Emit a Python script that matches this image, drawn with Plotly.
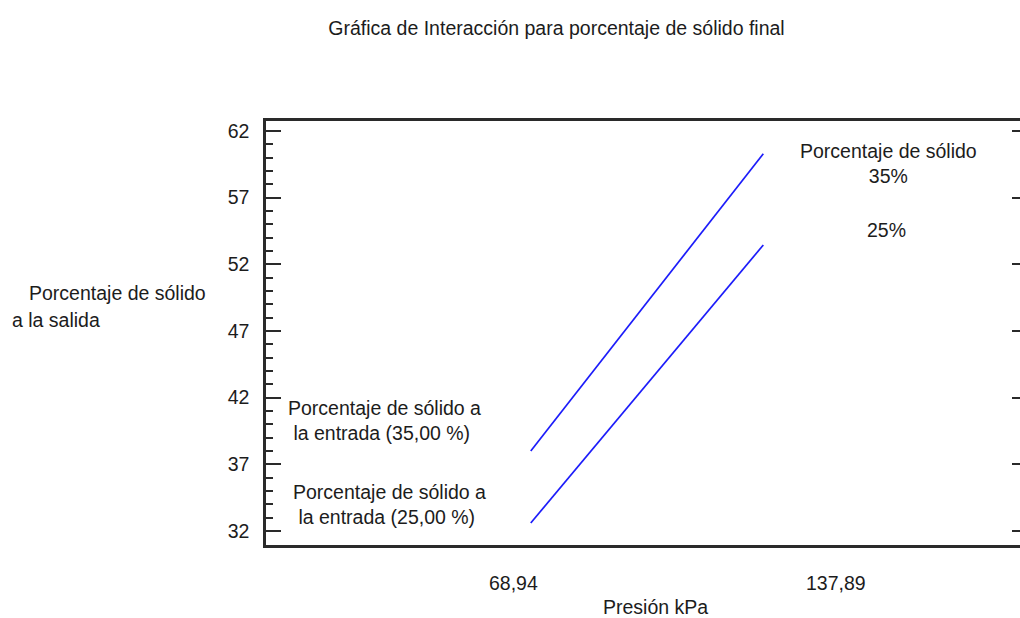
import plotly.graph_objects as go

# Factor levels (pressure, kPa) and mean response for each inlet solids level
presion = [68.94, 137.89]
solido_35 = [38.0, 60.3]
solido_25 = [32.6, 53.45]
niveles = ["35,00", "25,00"]
y_ticks = [32, 37, 42, 47, 52, 57, 62]

FONT = "Liberation Sans, Arial, sans-serif"
FS = 19.5
TXT = "#1c1c1c"
AX = "#2a2a2a"
BLUE = "rgb(28,28,250)"

fig = go.Figure()
for serie in (solido_35, solido_25):
    fig.add_trace(go.Scatter(
        x=presion, y=serie, mode="lines",
        line=dict(color=BLUE, width=1.7),
        showlegend=False, hoverinfo="skip",
    ))
# Same data on the right-hand axis (invisible) so its ticks are drawn
fig.add_trace(go.Scatter(
    x=presion, y=solido_35, yaxis="y2", mode="lines",
    line=dict(color="rgba(0,0,0,0)", width=0),
    showlegend=False, hoverinfo="skip",
))

fig.update_layout(
    width=1020, height=618,
    margin=dict(l=266, r=0, t=121, b=73),
    paper_bgcolor="white", plot_bgcolor="white",
    font=dict(family=FONT, size=FS, color=TXT),
    title=dict(
        text="Gráfica de Interacción para porcentaje de sólido final",
        x=0.5456, xanchor="center", y=0.955, yanchor="middle",
        font=dict(family=FONT, size=FS, color=TXT),
    ),
    xaxis=dict(
        range=[-9.56, 214.0], showgrid=False, zeroline=False,
        showticklabels=False, ticks="",
        showline=True, linecolor=AX, linewidth=2.5, mirror=True,
    ),
    yaxis=dict(
        range=[30.95, 62.75], showgrid=False, zeroline=False,
        tickvals=y_ticks, ticktext=[str(v) for v in y_ticks],
        ticks="inside", ticklen=15, tickwidth=2, tickcolor=AX,
        minor=dict(dtick=1, ticks="inside", ticklen=7, tickwidth=2, tickcolor=AX),
        showline=True, linecolor=AX, linewidth=2.5, mirror=False,
        ticklabelstandoff=10,
        tickfont=dict(family=FONT, size=FS, color=TXT),
    ),
    yaxis2=dict(
        overlaying="y", side="right", anchor="x",
        range=[30.95, 62.75], showgrid=False, zeroline=False,
        tickvals=y_ticks, showticklabels=False,
        ticks="inside", ticklen=8, tickwidth=2, tickcolor=AX,
        showline=False,
    ),
)

# X tick labels for the two pressure levels
x_lab_pos = [0.3276, 0.756]
for pos, v in zip(x_lab_pos, presion):
    fig.add_annotation(
        text=f"{v:.2f}".replace(".", ","), xref="paper", yref="paper",
        x=pos, y=-0.0896, xanchor="center", yanchor="middle",
        showarrow=False, font=dict(family=FONT, size=FS, color=TXT),
    )

# Axis titles
fig.add_annotation(text="Presión kPa", xref="paper", yref="paper",
                   x=0.5172, y=-0.147, xanchor="center", yanchor="middle",
                   showarrow=False, font=dict(family=FONT, size=FS, color=TXT))
fig.add_annotation(text="Porcentaje de sólido", xref="paper", yref="paper",
                   x=-0.317, y=0.594, xanchor="left", yanchor="middle",
                   showarrow=False, font=dict(family=FONT, size=FS, color=TXT))
fig.add_annotation(text="a la salida", xref="paper", yref="paper",
                   x=-0.3395, y=0.5307, xanchor="left", yanchor="middle",
                   showarrow=False, font=dict(family=FONT, size=FS, color=TXT))

# Series labels next to the low-pressure ends
lab_pos = [(0.0265, 0.2936), (0.033, 0.0955)]
for (px, py), nivel in zip(lab_pos, niveles):
    fig.add_annotation(
        text=f"Porcentaje de sólido a<br>\u00a0la entrada ({nivel} %)",
        xref="paper", yref="paper", x=px, y=py,
        xanchor="left", yanchor="middle", align="left",
        showarrow=False, font=dict(family=FONT, size=FS, color=TXT),
    )

# Key for the inlet solids factor
fig.add_annotation(text="Porcentaje de sólido<br>35%", xref="paper", yref="paper",
                   x=0.826, y=0.8998, xanchor="center", yanchor="middle",
                   align="center", showarrow=False,
                   font=dict(family=FONT, size=FS, color=TXT))
fig.add_annotation(text="25%", xref="paper", yref="paper",
                   x=0.823, y=0.743, xanchor="center", yanchor="middle",
                   showarrow=False, font=dict(family=FONT, size=FS, color=TXT))

fig.write_html("out.html")
